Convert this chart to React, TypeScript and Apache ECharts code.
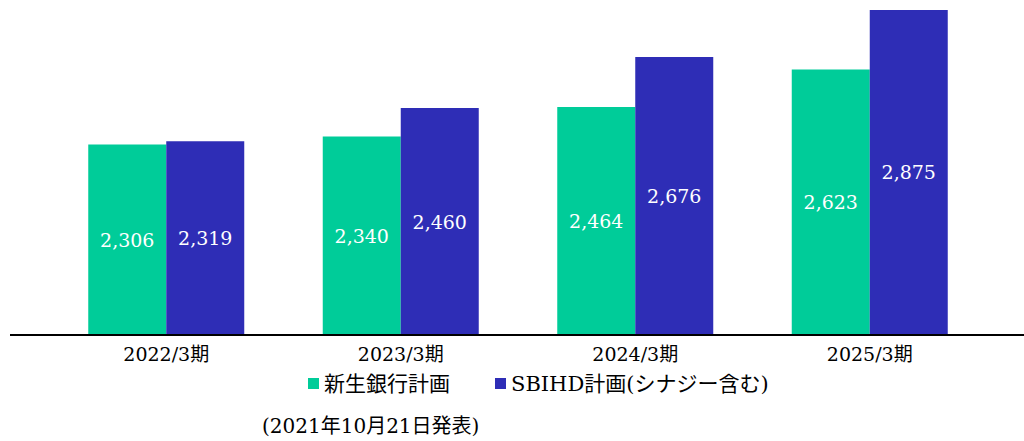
import React, { useEffect, useRef } from "react";
import * as echarts from "echarts";

const categories = ["2022/3期", "2023/3期", "2024/3期", "2025/3期"];
const shinseiPlan = [2306, 2340, 2464, 2623];
const sbihdPlan = [2319, 2460, 2676, 2875];
const seriesNames = ["新生銀行計画", "SBIHD計画(シナジー含む)"];
const footnote = "(2021年10月21日発表)";

const FONT = "'DejaVu Serif', 'Noto Sans CJK JP', serif";

export default function App() {
  const ref = useRef<HTMLDivElement>(null);
  useEffect(() => {
    document.body.style.margin = "0";
    if (!ref.current) return;
    const chart = echarts.init(ref.current, undefined, { renderer: "svg" });
    const label = {
      show: true,
      position: "inside",
      color: "#ffffff",
      fontFamily: FONT,
      fontSize: 19,
      formatter: (p: any) => p.value.toLocaleString("en-US"),
    };
    chart.setOption({
      animation: false,
      textStyle: { fontFamily: FONT },
      grid: { left: 49, right: 37, top: 4, bottom: 106 },
      xAxis: {
        type: "category",
        data: categories,
        axisLine: { show: false },
        axisTick: { show: false },
        axisLabel: { color: "#000", fontSize: 19, margin: 9, fontFamily: FONT },
      },
      yAxis: {
        type: "value",
        min: 1500,
        max: 2900,
        show: false,
        splitLine: { show: false },
      },
      legend: {
        left: 308,
        top: 373,
        padding: 0,
        itemWidth: 11,
        itemHeight: 11,
        itemGap: 45,
        icon: "rect",
        textStyle: { color: "#000", fontSize: 21, fontFamily: FONT },
        data: seriesNames,
      },
      series: [
        {
          name: seriesNames[0],
          type: "bar",
          data: shinseiPlan,
          barWidth: 78,
          barGap: "0%",
          itemStyle: { color: "#00CC99" },
          label,
        },
        {
          name: seriesNames[1],
          type: "bar",
          data: sbihdPlan,
          barWidth: 78,
          barGap: "0%",
          itemStyle: { color: "#2E2DB6" },
          label,
        },
      ],
      graphic: [
        {
          type: "line",
          shape: { x1: 10, y1: 335, x2: 1024, y2: 335 },
          style: { stroke: "#000", lineWidth: 2 },
          z: 10,
        },
        {
          type: "text",
          left: 262,
          top: 416,
          style: { text: footnote, fill: "#000", fontSize: 20, fontFamily: FONT },
        },
      ],
    });
    return () => chart.dispose();
  }, []);
  return <div ref={ref} style={{ width: 1024, height: 441 }} />;
}
